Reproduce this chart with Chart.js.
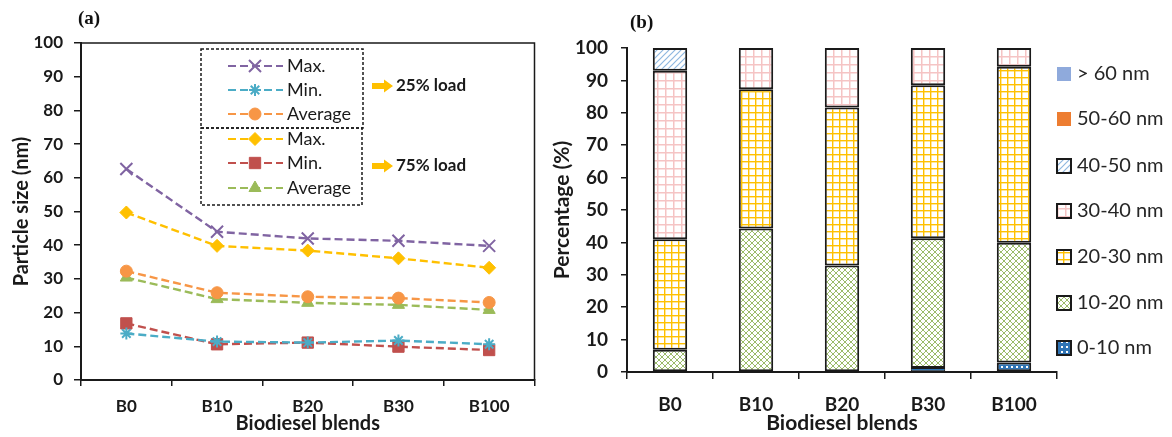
<!DOCTYPE html>
<html lang="en">
<head>
<meta charset="UTF-8">
<title>Particle size and size distribution</title>
<script src="https://cdn.jsdelivr.net/npm/chart.js@4.4.1/dist/chart.umd.min.js"></script>
<style>
  body { margin: 0; background: #fff; }
  #wrap { position: relative; width: 1172px; height: 437px; overflow: hidden; }
  canvas { position: absolute; top: 0; }
  .tag { position: absolute; font: bold 19px "Liberation Serif", serif; color: #111; line-height: 20px; }
</style>
</head>
<body>
<div id="wrap">
  <canvas id="chartSize" width="545" height="437" style="left:0"></canvas>
  <canvas id="chartDist" width="627" height="437" style="left:545px"></canvas>
  <div class="tag" style="left:78px; top:8px">(a)</div>
  <div class="tag" style="left:630px; top:12px">(b)</div>
</div>
<script>
    // categories
    const blends = ['B0', 'B10', 'B20', 'B30', 'B100'];

    // (a) particle size, nm
    const max25 = [62.6, 44.0, 42.0, 41.3, 39.8];
    const min25 = [13.8, 11.4, 11.1, 11.7, 10.6];
    const avg25 = [32.3, 25.9, 24.7, 24.3, 23.0];
    const max75 = [49.7, 39.8, 38.4, 36.1, 33.3];
    const min75 = [16.8, 10.6, 11.1, 9.9, 8.9];
    const avg75 = [30.4, 24.0, 22.9, 22.3, 20.8];
    const loadLabels = ['25% load', '75% load'];

    // (b) share of particles per size bin, %
    const bins = ['0-10 nm', '10-20 nm', '20-30 nm', '30-40 nm', '40-50 nm', '50-60 nm', '> 60 nm'];
    const p0_10 = [0, 0, 0, 1.2, 2.9];
    const p10_20 = [6.9, 44.3, 32.9, 40.1, 37.0];
    const p20_30 = [34.1, 43.0, 48.7, 47.2, 54.3];
    const p30_40 = [52.0, 12.7, 18.4, 11.5, 5.8];
    const p40_50 = [7.0, 0, 0, 0, 0];
    const p50_60 = [0, 0, 0, 0, 0];
    const p60 = [0, 0, 0, 0, 0];

    const ink = '#1a1a1a';
    Chart.defaults.font.family = 'Lato, sans-serif';
    Chart.defaults.color = ink;

    function pattern(size, bg, draw) {
        const c = document.createElement('canvas');
        c.width = c.height = size;
        const g = c.getContext('2d');
        g.fillStyle = bg;
        g.fillRect(0, 0, size, size);
        draw(g, size);
        return g.createPattern(c, 'repeat');
    }
    const patDots = pattern(5, '#2f74b5', function (g) {
        g.fillStyle = '#fff'; g.fillRect(1, 1, 2, 2);
    });
    const patLattice = pattern(6, '#fff', function (g, s) {
        g.strokeStyle = '#9bbb6a'; g.lineWidth = 1;
        g.beginPath();
        g.moveTo(0, 0); g.lineTo(s, s);
        g.moveTo(s, 0); g.lineTo(0, s);
        g.stroke();
    });
    const patYellow = pattern(7, '#fff', function (g, s) {
        g.fillStyle = '#ffc000'; g.fillRect(0, 0, s, 1.4); g.fillRect(0, 0, 1.4, s);
    });
    const patPink = pattern(8, '#fff', function (g, s) {
        g.fillStyle = '#f5c4c4'; g.fillRect(0, 0, s, 1.5); g.fillRect(0, 0, 1.5, s);
    });
    const patHatch = pattern(6, '#fff', function (g, s) {
        g.strokeStyle = '#8fb8e0'; g.lineWidth = 1.2;
        g.beginPath();
        g.moveTo(-1, s + 1); g.lineTo(s + 1, -1);
        g.moveTo(-1, 1); g.lineTo(1, -1);
        g.moveTo(s - 1, s + 1); g.lineTo(s + 1, s - 1);
        g.stroke();
    });

    function lineSet(label, data, color, style, radius, filled) {
        return {
            label: label, data: data,
            borderColor: color, backgroundColor: color,
            borderWidth: 2.4, borderDash: [8, 4],
            pointStyle: style, pointRadius: radius, pointHoverRadius: radius,
            pointBorderColor: color,
            pointBackgroundColor: filled ? color : 'rgba(0,0,0,0)',
            pointBorderWidth: filled ? 1 : 2,
            tension: 0, fill: false
        };
    }

    function arrow(ctx, x, y) {
        ctx.beginPath();
        ctx.moveTo(x, y - 3); ctx.lineTo(x + 12, y - 3); ctx.lineTo(x + 12, y - 6.5);
        ctx.lineTo(x + 21, y); ctx.lineTo(x + 12, y + 6.5); ctx.lineTo(x + 12, y + 3);
        ctx.lineTo(x, y + 3); ctx.closePath(); ctx.fill();
    }

    function marker(ctx, opts, x, y) {
        if (Chart.helpers && Chart.helpers.drawPoint) {
            Chart.helpers.drawPoint(ctx, opts, x, y);
        } else {
            ctx.beginPath(); ctx.arc(x, y, opts.radius, 0, Math.PI * 2); ctx.fill();
        }
    }

    const sizeLegend = {
        id: 'sizeLegend',
        afterDraw: function (chart) {
            const ctx = chart.ctx;
            const a = chart.chartArea;
            const rows = [66, 90, 114, 139, 163, 188];
            ctx.save();
            // frame
            ctx.strokeStyle = ink; ctx.lineWidth = 1.5;
            ctx.beginPath();
            ctx.moveTo(a.left, a.top); ctx.lineTo(a.right, a.top); ctx.lineTo(a.right, a.bottom);
            ctx.stroke();
            // dashed legend boxes
            ctx.setLineDash([3, 2]);
            ctx.strokeRect(201, 49, 162, 79);
            ctx.strokeRect(201, 128, 161, 77);
            chart.data.datasets.forEach(function (ds, i) {
                const y = rows[i];
                ctx.setLineDash(ds.borderDash);
                ctx.strokeStyle = ds.borderColor; ctx.lineWidth = 2.2;
                ctx.beginPath(); ctx.moveTo(228, y); ctx.lineTo(283, y); ctx.stroke();
                ctx.setLineDash([]);
                ctx.fillStyle = ds.pointBackgroundColor;
                ctx.strokeStyle = ds.pointBorderColor;
                ctx.lineWidth = ds.pointBorderWidth;
                marker(ctx, {pointStyle: ds.pointStyle, radius: ds.pointRadius, borderWidth: ds.pointBorderWidth, rotation: 0}, 255, y);
                ctx.fillStyle = ink; ctx.font = '18px Lato'; ctx.textBaseline = 'middle'; ctx.textAlign = 'left';
                ctx.fillText(ds.label, 287, y);
            });
            ctx.fillStyle = '#ffc000';
            arrow(ctx, 372, 86);
            arrow(ctx, 372, 166);
            ctx.fillStyle = ink; ctx.font = 'bold 17px Lato';
            ctx.fillText(loadLabels[0], 396, 86);
            ctx.fillText(loadLabels[1], 396, 166);
            ctx.restore();
        }
    };

    new Chart(document.getElementById('chartSize'), {
        type: 'line',
        data: {
            labels: blends,
            datasets: [
                lineSet('Max.', max25, '#8064a2', 'crossRot', 8.5, false),
                lineSet('Min.', min25, '#4bacc6', 'star', 6, false),
                lineSet('Average', avg25, '#f79646', 'circle', 6, true),
                lineSet('Max.', max75, '#ffc000', 'rectRot', 6.5, true),
                lineSet('Min.', min75, '#c0504d', 'rect', 8, true),
                lineSet('Average', avg75, '#9bbb59', 'triangle', 7, true)
            ]
        },
        options: {
            responsive: false,
            animation: false,
            layout: {padding: {left: 0, right: 3, top: 43, bottom: 0}},
            plugins: {legend: {display: false}, tooltip: {enabled: false}},
            scales: {
                x: {
                    offset: true,
                    grid: {offset: true, drawOnChartArea: false, tickLength: 6, color: ink, lineWidth: 1.5},
                    border: {color: ink, width: 2},
                    ticks: {font: {size: 17, weight: 'bold'}, padding: 10, color: ink},
                    title: {display: true, text: 'Biodiesel blends', font: {size: 20, weight: 'bold'}, color: ink, padding: {top: 0, bottom: 1}},
                    afterFit: function (s) { s.height = 57; }
                },
                y: {
                    min: 0, max: 100,
                    grid: {drawOnChartArea: false, tickLength: 7, color: ink, lineWidth: 1.5},
                    border: {color: ink, width: 2},
                    ticks: {stepSize: 10, font: {size: 17, weight: 'bold'}, padding: 11, color: ink},
                    title: {display: true, text: 'Particle size (nm)', font: {size: 20, weight: 'bold'}, color: ink, padding: {top: 10, bottom: 0}},
                    afterFit: function (s) { s.width = 81; }
                }
            }
        },
        plugins: [sizeLegend]
    });

    const distLegend = {
        id: 'distLegend',
        afterDraw: function (chart) {
            const ctx = chart.ctx;
            const rows = [348, 303, 257, 211, 166, 119, 74];
            ctx.save();
            chart.data.datasets.forEach(function (ds, i) {
                const y = rows[i];
                ctx.fillStyle = ds.backgroundColor;
                ctx.fillRect(512, y - 7, 14, 14);
                if (ds.outlined) {
                    ctx.strokeStyle = ink; ctx.lineWidth = 2;
                    ctx.strokeRect(512, y - 7, 14, 14);
                }
                ctx.fillStyle = '#262626'; ctx.font = '20px Lato'; ctx.textBaseline = 'middle'; ctx.textAlign = 'left';
                ctx.fillText(ds.label, 532, y);
            });
            ctx.restore();
        }
    };

    function barSet(label, data, fill, outlined) {
        return {
            label: label, data: data, backgroundColor: fill, outlined: outlined,
            borderColor: ink,
            borderWidth: function (c) {
                if (!outlined || !c.raw) return 0;
                return c.raw < 2 ? 1 : 2;
            },
            borderSkipped: false,
            barPercentage: 0.4, categoryPercentage: 1
        };
    }

    new Chart(document.getElementById('chartDist'), {
        type: 'bar',
        data: {
            labels: blends,
            datasets: [
                barSet(bins[0], p0_10, patDots, true),
                barSet(bins[1], p10_20, patLattice, true),
                barSet(bins[2], p20_30, patYellow, true),
                barSet(bins[3], p30_40, patPink, true),
                barSet(bins[4], p40_50, patHatch, true),
                barSet(bins[5], p50_60, '#ed7d31', false),
                barSet(bins[6], p60, '#8faadc', false)
            ]
        },
        options: {
            responsive: false,
            animation: false,
            layout: {padding: {left: 0, right: 115, top: 48, bottom: 0}},
            plugins: {legend: {display: false}, tooltip: {enabled: false}},
            scales: {
                x: {
                    stacked: true,
                    grid: {offset: true, drawOnChartArea: false, tickLength: 7, color: ink, lineWidth: 1.5},
                    border: {color: ink, width: 2},
                    ticks: {font: {size: 19, weight: 'bold'}, padding: 14, color: ink},
                    title: {display: true, text: 'Biodiesel blends', font: {size: 21, weight: 'bold'}, color: ink, padding: {top: 0, bottom: 1}},
                    afterFit: function (s) { s.height = 65; }
                },
                y: {
                    stacked: true, min: 0, max: 100,
                    grid: {drawOnChartArea: false, tickLength: 6, color: ink, lineWidth: 1.5},
                    border: {color: ink, width: 2},
                    ticks: {stepSize: 10, font: {size: 19, weight: 'bold'}, padding: 13, color: ink},
                    title: {display: true, text: 'Percentage (%)', font: {size: 21, weight: 'bold'}, color: ink, padding: {top: 5, bottom: 0}},
                    afterFit: function (s) { s.width = 82; }
                }
            }
        },
        plugins: [distLegend]
    });
</script>
</body>
</html>
